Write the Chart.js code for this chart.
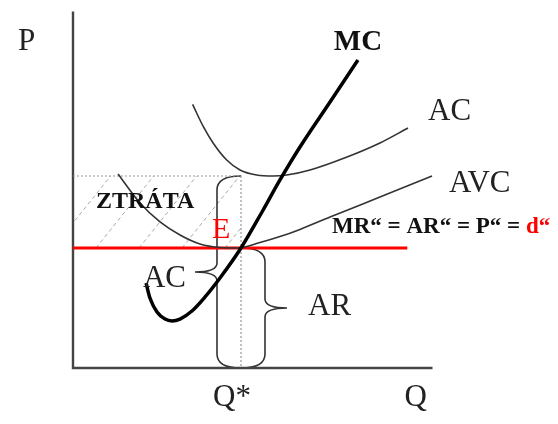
<!DOCTYPE html>
<html>
<head>
<meta charset="utf-8">
<script src="https://cdn.jsdelivr.net/npm/chart.js@4/dist/chart.umd.min.js"></script>
<style>
  html, body { margin: 0; padding: 0; background: #fff; }
  #wrap { width: 558px; height: 424px; }
</style>
</head>
<body>
<div id="wrap"><canvas id="chart" width="558" height="424"></canvas></div>
<script>
// quantity / price (Q* = 10, P = 10)
const qStar = 10;
const priceLevel = 10;
const acAtQStar = 16;

const mcQ = [4.35, 4.58, 5.0, 5.48, 5.89, 6.37, 7.08, 7.86, 8.75, 10, 11.25, 12.32, 13.51, 15.3, 16.96];
const mcP = [7.08, 5.83, 4.67, 4.08, 3.92, 4.08, 4.75, 5.92, 7.5, 10, 13, 15.67, 18.42, 22.17, 25.67];

const acQ = [7.12, 7.76, 8.35, 9.15, 9.94, 10.93, 11.92, 12.72, 14.11, 16.31, 18.27, 19.94];
const acP = [21.97, 20.11, 18.73, 17.33, 16.5, 16.08, 16.0, 16.08, 16.5, 17.58, 18.75, 20.0];

const avcQ = [2.68, 3.99, 5.18, 6.37, 7.56, 8.75, 9.82, 11.13, 12.32, 13.51, 15.3, 18.27, 21.37];
const avcP = [16.17, 13.75, 12.17, 11.08, 10.33, 10.04, 10.0, 10.45, 10.95, 11.55, 12.58, 14.25, 16.0];

const mrQ = [0, 19.9];
const axisQMax = 21.4;
const axisPMax = 29.7;

const pts = (xs, ys) => xs.map((x, i) => ({ x: x, y: ys[i] }));

function line(data, color, width, extra) {
    return Object.assign({
        data: data,
        showLine: true,
        borderColor: color,
        borderWidth: width,
        pointRadius: 0,
        fill: false
    }, extra || {});
}

function drawBrace(ctx, x0, yTop, yBot, yTip, dir) {
    const d = 24, t = 22, r = 14;
    const xv = x0 + dir * d;
    ctx.beginPath();
    ctx.moveTo(x0, yTop);
    ctx.bezierCurveTo(x0 + dir * d * 0.55, yTop, xv, yTop + 3, xv, yTop + r);
    ctx.lineTo(xv, yTip - 9);
    ctx.bezierCurveTo(xv, yTip - 2, xv + dir * t * 0.4, yTip, xv + dir * t, yTip);
    ctx.bezierCurveTo(xv + dir * t * 0.4, yTip, xv, yTip + 2, xv, yTip + 9);
    ctx.lineTo(xv, yBot - r);
    ctx.bezierCurveTo(xv, yBot - 3, x0 + dir * d * 0.55, yBot, x0, yBot);
    ctx.stroke();
    return xv + dir * t;
}

const diagram = {
    id: 'diagram',
    beforeDatasetsDraw(chart) {
        const ctx = chart.ctx;
        const x = chart.scales.x, y = chart.scales.y;
        const left = x.getPixelForValue(0), right = x.getPixelForValue(qStar);
        const top = y.getPixelForValue(acAtQStar), bottom = y.getPixelForValue(priceLevel);

        // hatched loss rectangle
        ctx.save();
        ctx.beginPath();
        ctx.rect(left, top, right - left, bottom - top);
        ctx.clip();
        ctx.strokeStyle = '#aaa';
        ctx.lineWidth = 1;
        ctx.setLineDash([4, 3]);
        const h = bottom - top;
        for (let sx = left - 20; sx < right + h; sx += 43) {
            ctx.beginPath();
            ctx.moveTo(sx, bottom);
            ctx.lineTo(sx + h * 0.8, top);
            ctx.stroke();
        }
        ctx.restore();

        // braces
        ctx.save();
        ctx.strokeStyle = '#333';
        ctx.lineWidth = 1.6;
        const yZero = y.getPixelForValue(0);
        chart.$acTip = drawBrace(ctx, right, top, yZero, y.getPixelForValue(acAtQStar * 0.5), -1);
        chart.$arTip = drawBrace(ctx, right, bottom, yZero, y.getPixelForValue(priceLevel * 0.5), 1);
        ctx.restore();
    },
    afterDatasetsDraw(chart) {
        const ctx = chart.ctx;
        const x = chart.scales.x, y = chart.scales.y;
        const px = v => x.getPixelForValue(v), py = v => y.getPixelForValue(v);
        const last = (a) => a[a.length - 1];
        ctx.save();
        ctx.textBaseline = 'alphabetic';
        ctx.fillStyle = '#222';

        ctx.font = '31px "Liberation Serif", "Times New Roman", serif';
        ctx.textAlign = 'left';
        ctx.fillText('P', px(0) - 55, py(axisPMax) + 38);
        ctx.fillText('Q', px(axisQMax) - 28, py(0) + 38);
        ctx.fillText('Q*', px(qStar) - 28, py(0) + 38);
        ctx.fillText('AC', px(last(acQ)) + 20, py(last(acP)) - 8);
        ctx.fillText('AVC', px(last(avcQ)) + 17, py(last(avcP)) + 16);
        ctx.fillText('AR', chart.$arTip + 21, py(priceLevel * 0.5) + 7);
        ctx.textAlign = 'right';
        ctx.fillText('AC', chart.$acTip - 9, py(acAtQStar * 0.5) + 15);

        ctx.textAlign = 'center';
        ctx.fillStyle = '#111';
        ctx.font = 'bold 29px "Liberation Serif", "Times New Roman", serif';
        ctx.fillText('MC', px(last(mcQ)), py(last(mcP)) - 10);

        ctx.textAlign = 'left';
        ctx.font = 'bold 24px "Liberation Serif", "Times New Roman", serif';
        ctx.fillText('ZTRÁTA', px(0) + 23, py(priceLevel) - 40);

        ctx.fillStyle = '#ff0000';
        ctx.font = '30px "Liberation Serif", "Times New Roman", serif';
        ctx.fillText('E', px(qStar) - 29, py(priceLevel) - 10);

        ctx.font = 'bold 23px "Liberation Serif", "Times New Roman", serif';
        const eq = 'MR\u201C = AR\u201C = P\u201C = ';
        const ex = px(qStar) + 91, ey = py(priceLevel) - 15;
        ctx.fillStyle = '#111';
        ctx.fillText(eq, ex, ey);
        ctx.fillStyle = '#ff0000';
        ctx.fillText('d\u201C', ex + ctx.measureText(eq).width, ey);
        ctx.restore();
    }
};

new Chart(document.getElementById('chart'), {
    type: 'scatter',
    data: {
        datasets: [
            line(pts(mcQ, mcP), '#000', 3.5, { cubicInterpolationMode: 'monotone' }),
            line(pts(acQ, acP), '#333', 1.6, { cubicInterpolationMode: 'monotone' }),
            line(pts(avcQ, avcP), '#333', 1.6, { cubicInterpolationMode: 'monotone' }),
            line(pts(mrQ, [priceLevel, priceLevel]), '#ff0000', 3),
            line(pts([0, qStar, qStar], [acAtQStar, acAtQStar, 0]), '#999', 1.2, { borderDash: [2, 2] }),
            line(pts([0, 0, axisQMax], [axisPMax, 0, 0]), '#444', 2.4)
        ]
    },
    options: {
        responsive: false,
        animation: false,
        layout: { padding: 0 },
        plugins: { legend: { display: false }, tooltip: { enabled: false } },
        scales: {
            x: { type: 'linear', display: false, min: -4.345, max: 28.869 },
            y: { type: 'linear', display: false, min: -4.667, max: 30.667 }
        }
    },
    plugins: [diagram]
});
</script>
</body>
</html>
